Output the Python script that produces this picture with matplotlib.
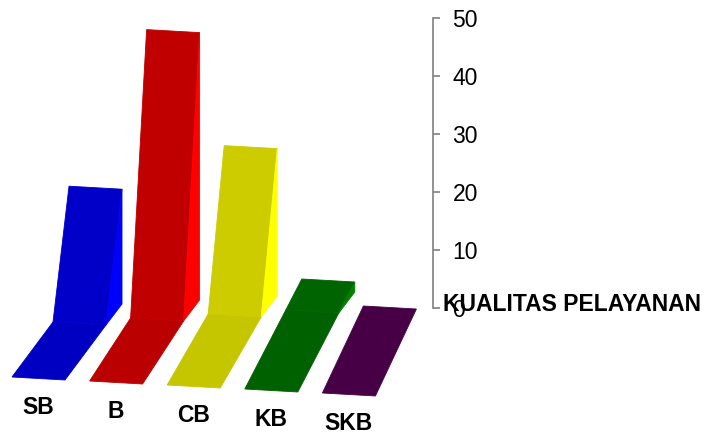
import matplotlib.pyplot as plt
import numpy as np

plt.rcParams['font.family'] = ['Liberation Sans', 'DejaVu Sans']

categories = ['SB', 'B', 'CB', 'KB', 'SKB']
values = [21, 48, 28, 5, 0]
wall_colors = ['#0000c8', '#c00000', '#cccc00', '#006400', '#4a0048']
side_colors = ['#0000ff', '#ff0000', '#ffff00', '#008000', '#5c005a']
y_ticks = [0, 10, 20, 30, 40, 50]
axis_title = 'KUALITAS PELAYANAN'

W, H = 705, 433
PX_X = 77.6      # pixels per category step
PX_Y = 5.8       # pixels per value unit
ORIGIN_X = 38    # pixel x of first category centre
ORIGIN_Y = 308   # pixel y of value 0
AXIS_X = 433     # pixel x of value axis line

# oblique "3d" look, converted to data units
HALF = 26 / PX_X
WIDTH = np.array([53 / PX_X, -3 / PX_Y])
FRONT_Y0, FRONT_DY = -69 / PX_Y, -4 / PX_Y
KNEE_Y0, KNEE_DY = -14 / PX_Y, 4 / PX_Y
FLOOR_SHIFT = 41 / PX_X
LEAN = 16 / PX_X
SIDE = np.array([16 / PX_X, 21 / PX_Y])


def shade(c, f):
    r, g, b = [int(c[k:k + 2], 16) for k in (1, 3, 5)]
    return '#%02x%02x%02x' % (int(r * f), int(g * f), int(b * f))


def poly(ax, pts, color):
    pts = np.array(pts)
    ax.fill(pts[:, 0], pts[:, 1], color=color, lw=0.6, ec=color)


def main():
    fig = plt.figure(figsize=(W / 100, H / 100), dpi=100)
    ax = fig.add_axes([0, 0, 1, 1])
    ax.set_xlim(-ORIGIN_X / PX_X, (W - ORIGIN_X) / PX_X)
    ax.set_ylim(-(H - ORIGIN_Y) / PX_Y, ORIGIN_Y / PX_Y)
    ax.axis('off')

    for i, (cat, v) in enumerate(zip(categories, values)):
        yf = FRONT_Y0 + FRONT_DY * i
        yk = KNEE_Y0 + KNEE_DY * i
        fl = np.array([i - HALF, yf])
        kl = fl + [FLOOR_SHIFT, yk - yf]
        poly(ax, [fl, fl + WIDTH, kl + WIDTH, kl], shade(wall_colors[i], 0.97))
        if v > yk:
            tl = kl + [LEAN, v - yk]
            poly(ax, [kl, tl, tl + WIDTH, kl + WIDTH], wall_colors[i])
            kr = kl + WIDTH
            poly(ax, [kr, kr + SIDE, tl + WIDTH], side_colors[i])
        ax.text(i, yf - 37 / PX_Y, cat, ha='center', va='baseline',
                fontsize=16.5, fontweight='bold')

    # value axis
    vax = fig.add_axes([AXIS_X / W - 0.01, (H - ORIGIN_Y) / H, 0.01, 50 * PX_Y / H])
    vax.set_ylim(0, 50)
    vax.patch.set_visible(False)
    for s in ['left', 'top', 'bottom']:
        vax.spines[s].set_visible(False)
    vax.spines['right'].set_color('#808080')
    vax.spines['right'].set_linewidth(1.2)
    vax.set_xticks([])
    vax.yaxis.tick_right()
    vax.set_yticks(y_ticks)
    vax.tick_params(axis='y', direction='out', length=5, width=1.2,
                    color='#808080', labelsize=16.5, pad=9)
    vax.annotate(axis_title, xy=(1, 0), xycoords='axes fraction',
                 xytext=(7, -2.2), textcoords='offset points',
                 ha='left', va='baseline', fontsize=16.5, fontweight='bold')

    fig.savefig('out.png', dpi=100)


if __name__ == '__main__':
    main()
